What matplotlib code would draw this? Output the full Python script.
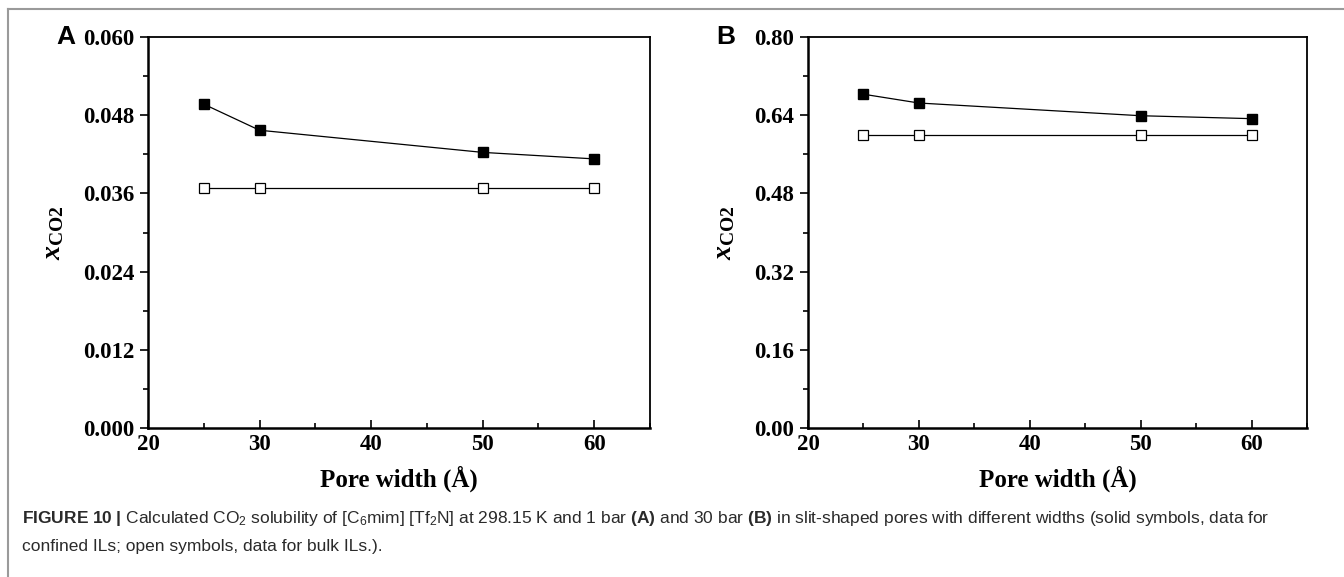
import matplotlib.pyplot as plt
from matplotlib.lines import Line2D
from matplotlib.ticker import MultipleLocator, FormatStrFormatter

plt.rcParams['mathtext.fontset'] = 'custom'
plt.rcParams['mathtext.rm'] = 'Liberation Sans'
plt.rcParams['mathtext.bf'] = 'Liberation Sans:bold'
plt.rcParams['mathtext.it'] = 'Liberation Serif:italic:bold'
plt.rcParams['mathtext.sf'] = 'Liberation Serif:bold'

pore_width = [25, 30, 50, 60]
# panel A: 1 bar
confined_a = [0.0497, 0.0457, 0.0423, 0.0413]
bulk_a = [0.0369, 0.0369, 0.0369, 0.0369]
# panel B: 30 bar
confined_b = [0.683, 0.665, 0.639, 0.633]
bulk_b = [0.599, 0.599, 0.599, 0.599]

panels = [
    ('A', confined_a, bulk_a, 0.060, 0.012, '%.3f', [0.1101, 0.2582, 0.3735, 0.6776]),
    ('B', confined_b, bulk_b, 0.80, 0.16, '%.2f', [0.6012, 0.2582, 0.3713, 0.6776]),
]

fig = plt.figure(figsize=(13.44, 5.77), dpi=100)

serif = 'Liberation Serif'
for letter, confined, bulk, ymax, ystep, fmt, rect in panels:
    ax = fig.add_axes(rect)
    ax.plot(pore_width, confined, '-s', color='black', lw=0.9, ms=7.5,
            mfc='black', mec='black')
    ax.plot(pore_width, bulk, '-s', color='black', lw=0.9, ms=6.5,
            mfc='white', mec='black', mew=0.9)

    ax.set_xlim(20, 65)
    ax.set_ylim(0, ymax)
    ax.xaxis.set_major_locator(MultipleLocator(10))
    ax.xaxis.set_minor_locator(MultipleLocator(5))
    ax.yaxis.set_major_locator(MultipleLocator(ystep))
    ax.yaxis.set_minor_locator(MultipleLocator(ystep / 2))
    ax.yaxis.set_major_formatter(FormatStrFormatter(fmt))
    ax.set_xticks([20, 30, 40, 50, 60])

    ax.tick_params(axis='x', which='both', direction='in', top=False)
    ax.tick_params(axis='y', which='both', direction='out', right=False)
    ax.tick_params(which='major', length=6, width=1.2, pad=4)
    ax.tick_params(which='minor', length=3.5, width=1.2)
    for lab in ax.get_xticklabels() + ax.get_yticklabels():
        lab.set_fontfamily(serif)
        lab.set_fontweight('bold')
        lab.set_fontsize(16.5)
    for side in ['left', 'bottom']:
        ax.spines[side].set_linewidth(1.8)
    for side in ['top', 'right']:
        ax.spines[side].set_linewidth(1.3)

    ax.set_xlabel('Pore width (Å)', fontfamily=serif, fontweight='bold',
                  fontsize=18, labelpad=8)
    ax.set_ylabel(r'$\mathit{x}_{\mathsf{CO2}}$', fontsize=20, labelpad=12)

    pos = ax.get_position()
    fig.text(pos.x0 - 0.068, pos.y1, letter, fontfamily='Liberation Sans',
             fontweight='bold', fontsize=19, ha='left', va='center')

# figure frame
fig.add_artist(Line2D([8 / 1344, 1.0], [1 - 9 / 577, 1 - 9 / 577],
                      transform=fig.transFigure, color='#9a9a9a', lw=1.5))
fig.add_artist(Line2D([8 / 1344, 8 / 1344], [0, 1 - 9 / 577],
                      transform=fig.transFigure, color='#9a9a9a', lw=1.5))

cap1 = (r'$\mathbf{FIGURE\ 10\ |}$ Calculated CO$_2$ solubility of [C$_6$mim] '
        r'[Tf$_2$N] at 298.15 K and 1 bar $\mathbf{(A)}$ and 30 bar $\mathbf{(B)}$ '
        r'in slit-shaped pores with different widths (solid symbols, data for')
cap2 = 'confined ILs; open symbols, data for bulk ILs.).'
fig.text(22 / 1344, 1 - 519 / 577, cap1, fontfamily='Liberation Sans',
         fontsize=12.5, color='#2a2a2a', va='center')
fig.text(22 / 1344, 1 - 547 / 577, cap2, fontfamily='Liberation Sans',
         fontsize=12.5, color='#2a2a2a', va='center')

fig.savefig('out.png', dpi=100)
